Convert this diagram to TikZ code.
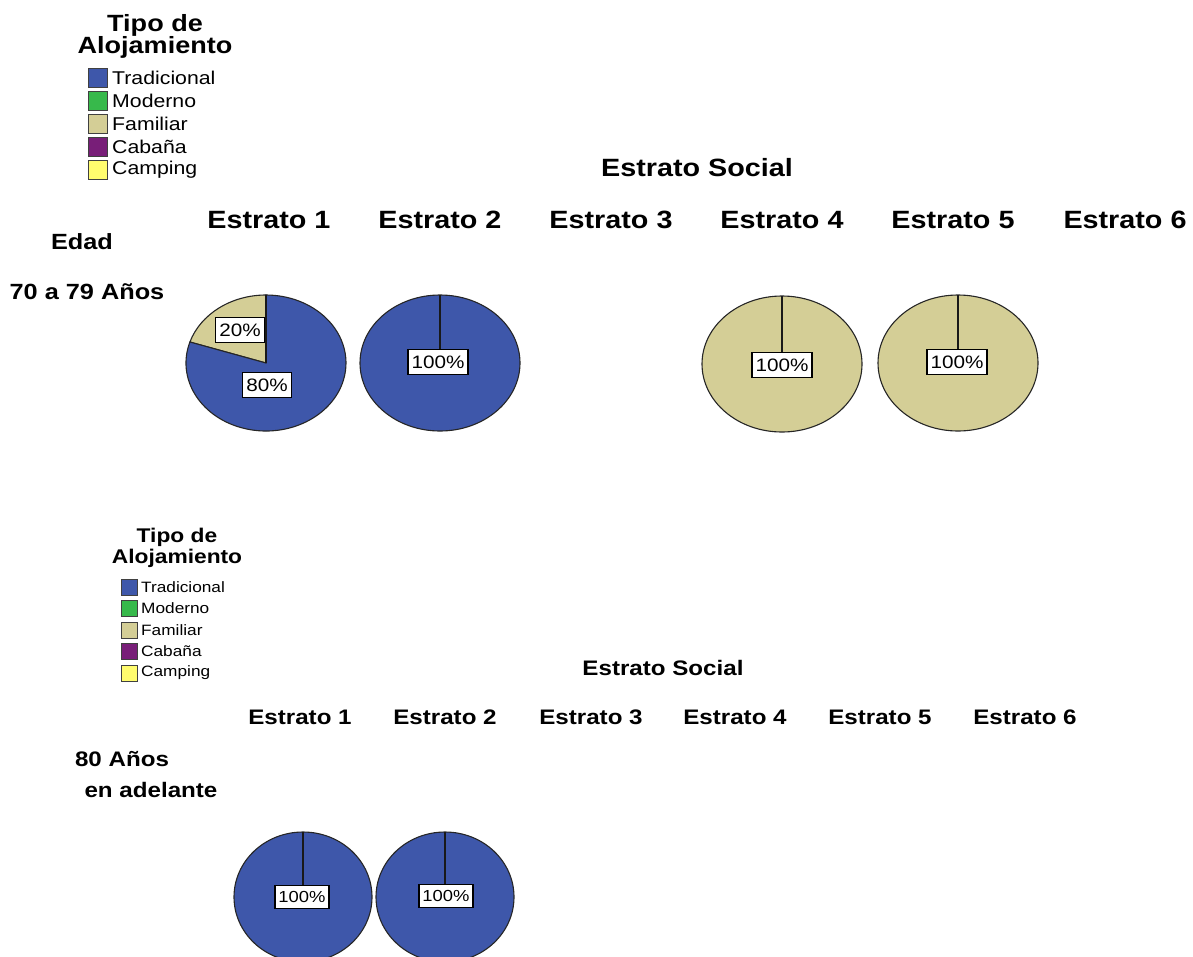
\documentclass[tikz,border=0pt]{standalone}
\usepackage{fontspec}
\setmainfont{Liberation Sans}[FakeStretch=1.15]
\usepackage{tikz}

\definecolor{tradblue}{RGB}{62,87,170}
\definecolor{modgreen}{RGB}{55,185,75}
\definecolor{famtan}{RGB}{212,206,150}
\definecolor{cabpurple}{RGB}{120,30,120}
\definecolor{campyellow}{RGB}{255,252,110}

\newcommand{\hdtop}{\bfseries\fontsize{25}{28}\selectfont}
\newcommand{\ttltop}{\bfseries\fontsize{23.5}{22}\selectfont}
\newcommand{\lgtop}{\fontsize{18.5}{20}\selectfont}
\newcommand{\pcttop}{\fontsize{18}{18}\selectfont}
\newcommand{\hdbot}{\bfseries\fontsize{21}{24}\selectfont}
\newcommand{\ttlbot}{\bfseries\fontsize{19.8}{21.5}\selectfont}
\newcommand{\lgbot}{\fontsize{15}{16}\selectfont}
\newcommand{\pctbot}{\fontsize{16}{16}\selectfont}

\tikzset{
  pieline/.style={draw=black!85, line width=1.1pt},
  slice/.style={draw=black!90, line width=2.6pt},
  pct/.style={draw=black, fill=white, line width=1.2pt, inner xsep=3.5pt, inner ysep=6pt},
  lgbox/.style={draw=black!75, line width=1pt},
}

\begin{document}
\begin{tikzpicture}[x=1pt, y=-1pt]
  \useasboundingbox (0,0) rectangle (1193,956);
  \clip (0,0) rectangle (1193,956);

  % 70 a 79 anos
  \node[align=center, font=\ttltop] (tipo1) at (155,36) {Tipo de\\Alojamiento};
  \filldraw[fill=tradblue, lgbox] (88.5,68.5) rectangle (107.5,87.5);
  \node[anchor=west, inner sep=0pt] (lg11) at (112,78) {\lgtop Tradicional};
  \filldraw[fill=modgreen, lgbox] (88.5,91.5) rectangle (107.5,110.5);
  \node[anchor=west, inner sep=0pt] (lg12) at (112,101) {\lgtop Moderno};
  \filldraw[fill=famtan, lgbox] (88.5,114.5) rectangle (107.5,133.5);
  \node[anchor=west, inner sep=0pt] (lg13) at (112,124) {\lgtop Familiar};
  \filldraw[fill=cabpurple, lgbox] (88.5,137.5) rectangle (107.5,156.5);
  \node[anchor=west, inner sep=0pt] (lg14) at (112,147) {\lgtop Cabaña};
  \filldraw[fill=campyellow, lgbox] (88.5,160.5) rectangle (107.5,179.5);
  \node[anchor=west, inner sep=0pt] (lg15) at (112,170) {\lgtop Camping};

  \node (soc1) at (697,168) {\hdtop Estrato Social};
  \node (e11) at (269,220) {\hdtop Estrato 1};
  \node (e12) at (440,220) {\hdtop Estrato 2};
  \node (e13) at (611,220) {\hdtop Estrato 3};
  \node (e14) at (782,220) {\hdtop Estrato 4};
  \node (e15) at (953,220) {\hdtop Estrato 5};
  \node (e16) at (1125,220) {\hdtop Estrato 6};
  \node (edad) at (82,242) {\bfseries\fontsize{22}{24}\selectfont Edad};
  \node (age1) at (87,292) {\bfseries\fontsize{22}{24}\selectfont 70 a 79 Años};

  \coordinate (pie11) at (266,363);
  \filldraw[fill=famtan, pieline] (pie11) -- ++(270:80 and 68) arc[start angle=270, end angle=198, x radius=80, y radius=68] -- cycle;
  \filldraw[fill=tradblue, pieline] (pie11) -- ++(198:80 and 68) arc[start angle=198, end angle=-90, x radius=80, y radius=68] -- cycle;
  \draw[slice] (pie11) -- ++(0,-68);
  \node[pct] (lab11a) at (240,330) {\pcttop 20\%};
  \node[pct] (lab11b) at (267,385) {\pcttop 80\%};

  \coordinate (pie12) at (440,363);
  \filldraw[fill=tradblue, pieline] (pie12) ellipse[x radius=80, y radius=68];
  \draw[slice] (pie12) -- ++(0,-68);
  \node[pct] (lab12) at (438,362) {\pcttop 100\%};

  \coordinate (pie14) at (782,364);
  \filldraw[fill=famtan, pieline] (pie14) ellipse[x radius=80, y radius=68];
  \draw[slice] (pie14) -- ++(0,-68);
  \node[pct] (lab14) at (782,365) {\pcttop 100\%};

  \coordinate (pie15) at (958,363);
  \filldraw[fill=famtan, pieline] (pie15) ellipse[x radius=80, y radius=68];
  \draw[slice] (pie15) -- ++(0,-68);
  \node[pct] (lab15) at (957,362) {\pcttop 100\%};

  % 80 anos en adelante
  \node[align=center, font=\ttlbot] (tipo2) at (177,548) {Tipo de\\Alojamiento};
  \filldraw[fill=tradblue, lgbox] (121,579) rectangle (137,595);
  \node[anchor=west, inner sep=0pt] (lg21) at (141,587) {\lgbot Tradicional};
  \filldraw[fill=modgreen, lgbox] (121,600.5) rectangle (137,616.5);
  \node[anchor=west, inner sep=0pt] (lg22) at (141,608.5) {\lgbot Moderno};
  \filldraw[fill=famtan, lgbox] (121,622) rectangle (137,638);
  \node[anchor=west, inner sep=0pt] (lg23) at (141,630) {\lgbot Familiar};
  \filldraw[fill=cabpurple, lgbox] (121,643.5) rectangle (137,659.5);
  \node[anchor=west, inner sep=0pt] (lg24) at (141,651.5) {\lgbot Cabaña};
  \filldraw[fill=campyellow, lgbox] (121,665) rectangle (137,681);
  \node[anchor=west, inner sep=0pt] (lg25) at (141,673) {\lgbot Camping};

  \node (soc2) at (663,668) {\hdbot Estrato Social};
  \node (e21) at (300,717) {\hdbot Estrato 1};
  \node (e22) at (445,717) {\hdbot Estrato 2};
  \node (e23) at (591,717) {\hdbot Estrato 3};
  \node (e24) at (735,717) {\hdbot Estrato 4};
  \node (e25) at (880,717) {\hdbot Estrato 5};
  \node (e26) at (1025,717) {\hdbot Estrato 6};
  \node (age2a) at (122,759) {\hdbot 80 Años};
  \node (age2b) at (151,790) {\hdbot en adelante};

  \coordinate (pie21) at (303,897);
  \filldraw[fill=tradblue, pieline] (pie21) ellipse[x radius=69, y radius=65];
  \draw[slice] (pie21) -- ++(0,-65);
  \node[pct] (lab21) at (302,897) {\pctbot 100\%};

  \coordinate (pie22) at (445,897);
  \filldraw[fill=tradblue, pieline] (pie22) ellipse[x radius=69, y radius=65];
  \draw[slice] (pie22) -- ++(0,-65);
  \node[pct] (lab22) at (446,896) {\pctbot 100\%};
\end{tikzpicture}
\end{document}
